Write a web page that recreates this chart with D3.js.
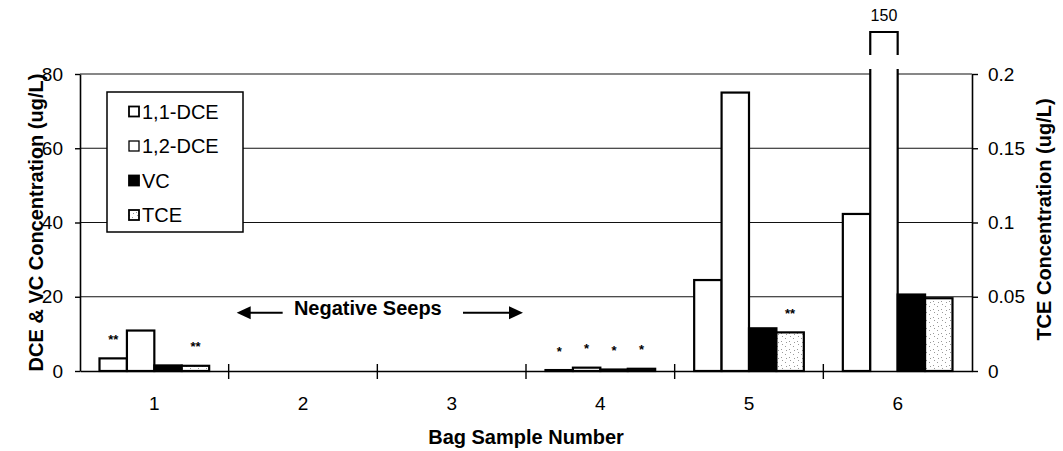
<!DOCTYPE html>
<html>
<head>
<meta charset="utf-8">
<script src="https://cdn.jsdelivr.net/npm/d3@7"></script>
<style>
body { margin:0; background:#fff; }
text { font-family: Arial, "Liberation Sans", Helvetica, sans-serif; fill:#000; }
</style>
</head>
<body>
<svg id="chart" width="1063" height="451"></svg>
<script>
// ---- data ----
var samples = ["1", "2", "3", "4", "5", "6"];
var series = ["1,1-DCE", "1,2-DCE", "VC", "TCE"];

// ug/L, left axis
var dce11 = [3.4, 0, 0, 0.25, 24.5, 42.3];
var dce12 = [10.9, 0, 0, 0.9, 75, 150];
var vc = [1.5, 0, 0, 0.4, 11.5, 20.6];
// ug/L, right axis
var tce = [0.0035, 0, 0, 0.0015, 0.026, 0.049];

// asterisk notes above bars
var note11 = ["**", "", "", "*", "", ""];
var note12 = ["", "", "", "*", "", ""];
var noteVc = ["", "", "", "*", "", ""];
var noteTce = ["**", "", "", "*", "**", ""];

var leftTicks = [0, 20, 40, 60, 80];
var rightTicks = [0, 0.05, 0.1, 0.15, 0.2];

var seriesValues = [dce11, dce12, vc, tce];
var seriesNotes = [note11, note12, noteVc, noteTce];
var seriesAxis = ["left", "left", "left", "right"];

// ---- layout ----
var LEFT = 80, RIGHT = 972, TOP = 74, BOTTOM = 371;

var svg = d3.select("#chart");

// sparse stipple for the TCE bars
var defs = svg.append("defs");
var pat = defs.append("pattern")
    .attr("id", "stipple")
    .attr("width", 8).attr("height", 8)
    .attr("patternUnits", "userSpaceOnUse");
pat.append("rect").attr("width", 8).attr("height", 8).attr("fill", "#fff");
[[1,2],[5,5],[6,0],[2,6]].forEach(function(p){
    pat.append("rect").attr("x", p[0]).attr("y", p[1])
	.attr("width", 1).attr("height", 1).attr("fill", "#999");
});

var x0 = d3.scaleBand().domain(samples).range([LEFT, RIGHT]).padding(0);
var x1 = d3.scaleBand().domain(series)
    .range([19.5, x0.bandwidth() - 19.5]).padding(0);

var yL = d3.scaleLinear().domain([0, 80]).range([BOTTOM, TOP]);
var yR = d3.scaleLinear().domain([0, 0.2]).range([BOTTOM, TOP]);

function yFor(s) { return seriesAxis[s] == "right" ? yR : yL; }

// gridlines
svg.append("g")
    .selectAll("line")
    .data(leftTicks.filter(function(d){ return d > 0; }))
    .enter().append("line")
    .attr("x1", LEFT).attr("x2", RIGHT)
    .attr("y1", function(d){ return yL(d); })
    .attr("y2", function(d){ return yL(d); })
    .attr("stroke", "#111").attr("stroke-width", 1.2);

// bars
var fills = ["#fff", "#fff", "#000", "url(#stipple)"];
var bars = [];
samples.forEach(function(c, i){
    series.forEach(function(s, k){
	bars.push({ sample: c, key: s, k: k, v: seriesValues[k][i], note: seriesNotes[k][i] });
    });
});

var gBars = svg.append("g");
bars.forEach(function(d){
    if (d.v <= 0) return;
    var y = yFor(d.k);
    var bx = x0(d.sample) + x1(d.key);
    var bw = x1.bandwidth();
    var dmax = y.domain()[1];
    if (d.v > dmax) {
	// broken bar, runs past the frame
	var ytop = y(dmax) - 5;
	gBars.append("rect")
	    .attr("x", bx).attr("y", ytop)
	    .attr("width", bw).attr("height", y(0) - ytop)
	    .attr("fill", fills[d.k]);
	gBars.append("path")
	    .attr("d", "M" + bx + "," + y(0) + "V" + ytop + "M" + (bx + bw) + "," + ytop + "V" + y(0))
	    .attr("fill", "none").attr("stroke", "#000").attr("stroke-width", 2.2);
	gBars.append("path")
	    .attr("d", "M" + bx + "," + (ytop - 14) + "V" + (ytop - 37) + "H" + (bx + bw) + "V" + (ytop - 14))
	    .attr("fill", "none").attr("stroke", "#000").attr("stroke-width", 2.2);
	gBars.append("text")
	    .attr("x", bx + bw / 2).attr("y", ytop - 48)
	    .attr("text-anchor", "middle")
	    .style("font-size", "16px")
	    .text(d.v);
	return;
    }
    gBars.append("rect")
	.attr("x", bx).attr("y", y(d.v))
	.attr("width", bw).attr("height", y(0) - y(d.v))
	.attr("fill", fills[d.k])
	.attr("stroke", "#000").attr("stroke-width", 2.2);
    if (d.note) {
	gBars.append("text")
	    .attr("x", bx + bw / 2).attr("y", y(d.v) - 14.5)
	    .attr("text-anchor", "middle")
	    .style("font-size", "13px").style("font-weight", "bold")
	    .text(d.note);
    }
});

// axes
var axL = svg.append("g")
    .attr("transform", "translate(" + LEFT + ",0)")
    .call(d3.axisLeft(yL).tickValues(leftTicks).tickSize(5).tickSizeOuter(0).tickPadding(12));
var axR = svg.append("g")
    .attr("transform", "translate(" + RIGHT + ",0)")
    .call(d3.axisRight(yR).tickValues(rightTicks).tickSize(6).tickSizeOuter(0).tickPadding(10)
	  .tickFormat(function(d){ return String(d); }));
var axB = svg.append("g")
    .attr("transform", "translate(0," + BOTTOM + ")")
    .call(d3.axisBottom(x0).tickSize(0).tickSizeOuter(0).tickPadding(26));

[axL, axR, axB].forEach(function(a){
    a.selectAll("path").attr("stroke", "#000").attr("stroke-width", 1.6);
    a.selectAll("line").attr("stroke", "#000").attr("stroke-width", 1.4);
    a.selectAll("text").style("font-size", "19px").attr("fill", "#000");
});

// category separators on the x axis
svg.append("g")
    .selectAll("line")
    .data(samples.slice(1))
    .enter().append("line")
    .attr("x1", function(d){ return x0(d); })
    .attr("x2", function(d){ return x0(d); })
    .attr("y1", BOTTOM - 7).attr("y2", BOTTOM + 8)
    .attr("stroke", "#000").attr("stroke-width", 1.4);

// axis titles
svg.append("text")
    .attr("transform", "translate(43," + ((TOP + BOTTOM) / 2) + ") rotate(-90)")
    .attr("text-anchor", "middle")
    .style("font-size", "20px").style("font-weight", "bold")
    .text("DCE & VC Concentration (ug/L)");

svg.append("text")
    .attr("transform", "translate(1051," + ((TOP + BOTTOM) / 2 - 3) + ") rotate(-90)")
    .attr("text-anchor", "middle")
    .style("font-size", "20px").style("font-weight", "bold")
    .text("TCE Concentration (ug/L)");

svg.append("text")
    .attr("x", (LEFT + RIGHT) / 2).attr("y", 443.5)
    .attr("text-anchor", "middle")
    .style("font-size", "20px").style("font-weight", "bold")
    .text("Bag Sample Number");

// "Negative Seeps" annotation
var ay = yL(20) + 16;
var ax1 = x0("2") + 8, ax2 = x0("4") - 3;
var seeps = svg.append("g");
seeps.append("text")
    .attr("x", (ax1 + ax2) / 2 - 12).attr("y", ay + 2)
    .attr("text-anchor", "middle")
    .style("font-size", "20px").style("font-weight", "bold")
    .text("Negative Seeps");
seeps.append("line")
    .attr("x1", ax1 + 12).attr("x2", ax1 + 46).attr("y1", ay).attr("y2", ay)
    .attr("stroke", "#000").attr("stroke-width", 2.2);
seeps.append("path")
    .attr("d", "M" + ax1 + "," + ay + "l14,-6.5v13z").attr("fill", "#000");
seeps.append("line")
    .attr("x1", ax2 - 60).attr("x2", ax2 - 12).attr("y1", ay).attr("y2", ay)
    .attr("stroke", "#000").attr("stroke-width", 2.2);
seeps.append("path")
    .attr("d", "M" + ax2 + "," + ay + "l-14,-6.5v13z").attr("fill", "#000");

// legend
var legend = svg.append("g").attr("transform", "translate(107,92)");
legend.append("rect")
    .attr("width", 136).attr("height", 140)
    .attr("fill", "#fff").attr("stroke", "#000").attr("stroke-width", 1.5);
var item = legend.selectAll("g.item")
    .data(series)
    .enter().append("g")
    .attr("class", "item")
    .attr("transform", function(d, i){ return "translate(0," + (19.5 + i * 34.5) + ")"; });
item.append("rect")
    .attr("x", 22).attr("y", -5).attr("width", 10).attr("height", 10)
    .attr("fill", function(d, i){ return fills[i]; })
    .attr("stroke", "#000").attr("stroke-width", function(d, i){ return i == 1 ? 1.3 : 1.8; });
item.append("text")
    .attr("x", 35).attr("y", 7)
    .style("font-size", "20px")
    .text(function(d){ return d; });
</script>
</body>
</html>
